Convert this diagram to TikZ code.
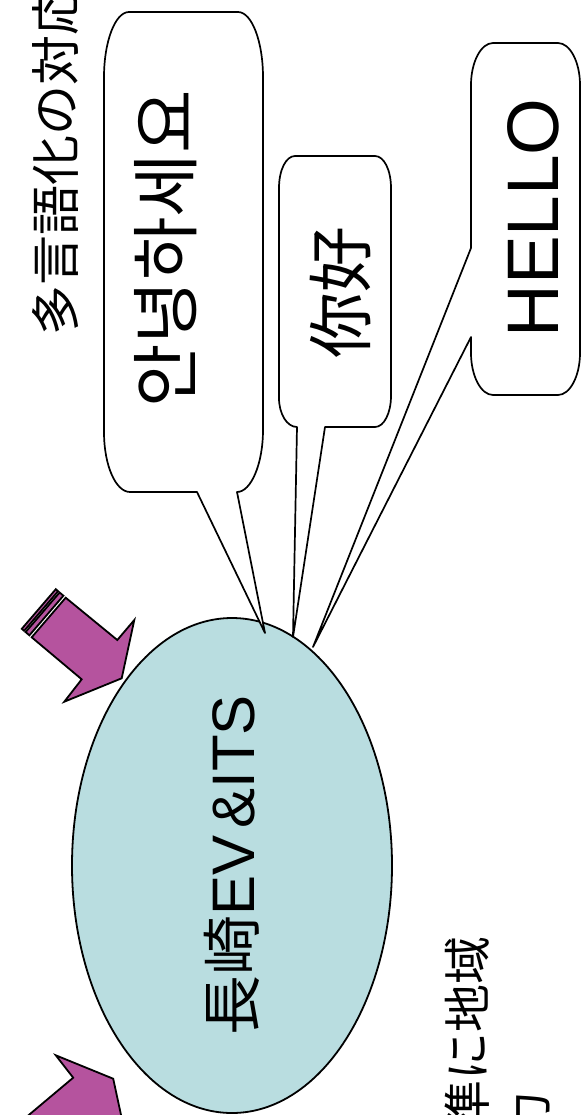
\documentclass[tikz,border=0pt]{standalone}
\usepackage{fontspec}
\setmainfont{Liberation Sans}
\newfontfamily\jafont{Noto Sans CJK JP}
\newfontfamily\kofont{Noto Sans CJK KR}
\newfontfamily\zhfont{Noto Sans CJK SC}
\usepackage{tikz}
\usetikzlibrary{shapes.geometric}
\definecolor{pushpurple}{RGB}{181,83,158}
\definecolor{hubblue}{RGB}{185,221,224}
\tikzstyle{bubble} = [draw=black, fill=white, line width=0.85pt, line join=round]
\tikzstyle{push} = [draw=black, fill=pushpurple, line width=0.9pt, line join=miter]
\tikzstyle{hubnode} = [ellipse, draw=black, fill=hubblue, line width=0.9pt, inner sep=0pt]
\tikzstyle{vtext} = [rotate=90, inner sep=0pt]

\begin{document}
\begin{tikzpicture}[x=0.5pt, y=-0.5pt]
\useasboundingbox (0,0) rectangle (582,1115);
\clip (0,0) rectangle (582,1115);
\node [vtext, anchor=west, font=\fontsize{25}{30}\selectfont\jafont] (title) at (55,336) {多言語化の対応};
% arrows pointing at the hub
\draw [push] (65.7,597.7) -- (117.3,640) -- (134.3,620) -- (121.7,678.3) -- (64.3,701.7) -- (81.7,679.3) -- (31.7,637.3) -- cycle;
\draw [push] (63.4,595.7) -- (29.4,635.3) -- (25.6,632.1) -- (59.6,592.5) -- cycle;
\draw [push] (58.1,591.2) -- (24.1,630.8) -- (21.8,628.8) -- (55.8,589.2) -- cycle;
\begin{scope}[shift={(-8.5,1757)}, yscale=-1]
\draw [push] (65.7,597.7) -- (117.3,640) -- (134.3,620) -- (121.7,678.3) -- (64.3,701.7) -- (81.7,679.3) -- (31.7,637.3) -- cycle;
\draw [push] (63.4,595.7) -- (29.4,635.3) -- (25.6,632.1) -- (59.6,592.5) -- cycle;
\draw [push] (58.1,591.2) -- (24.1,630.8) -- (21.8,628.8) -- (55.8,589.2) -- cycle;
\end{scope}
\node [hubnode, rotate=90, minimum width=247.5pt, minimum height=160pt, font=\fontsize{30}{36}\selectfont] (hub) at (232,865.5) {{\jafont 長崎}EV\hspace{0.12em}\&ITS};
\coordinate (tipK) at (265,633);
\coordinate (tipN) at (293,637);
\coordinate (tipH) at (313,647);
% speech bubbles
\draw [bubble] (129,12) -- (238,12) .. controls +(14,0) and +(0,-35) .. (263,77) -- (263,430) .. controls +(0,34) and +(14,0) .. (237,492) -- (tipK) -- (197,492) -- (130,492) .. controls +(-14,0) and +(0,34) .. (104,432) -- (104,77) .. controls +(0,-35) and +(-14,0) .. (129,12) -- cycle;
\draw [bubble] (295,156) -- (375,156) .. controls +(9,0) and +(0,-18) .. (391,188) -- (391,396) .. controls +(0,17) and +(9,0) .. (375,427) -- (325,427) -- (tipN) -- (297,427) .. controls +(-10,0) and +(0,16) .. (279,398) -- (279,188) .. controls +(0,-18) and +(-9,0) .. (295,156) -- cycle;
\draw [bubble] (493,43) -- (558,43) .. controls +(12,0) and +(0,-23) .. (580,85) -- (580,353) .. controls +(0,23) and +(12,0) .. (558,395) -- (493,395) .. controls +(-12,0) and +(0,23) .. (471,353) -- (471,337) -- (tipH) -- (471,248) -- (471,85) .. controls +(0,-23) and +(-12,0) .. (493,43) -- cycle;
\node [vtext, font=\fontsize{34.5}{41}\selectfont\kofont] (annyeong) at (166,249) {안녕하세요};
\node [vtext, font=\fontsize{33}{40}\selectfont\zhfont] (nihao) at (340,292) {你好};
\node [vtext, font=\fontsize{36.5}{44}\selectfont] (hello) at (533,218) {HELLO};
\node [vtext, anchor=east, font=\fontsize{24}{29}\selectfont\jafont] (note1) at (467,936) {準に地域};
\node [vtext, anchor=east, font=\fontsize{24}{29}\selectfont\jafont] (note2) at (528,1091) {力};
\end{tikzpicture}
\end{document}
